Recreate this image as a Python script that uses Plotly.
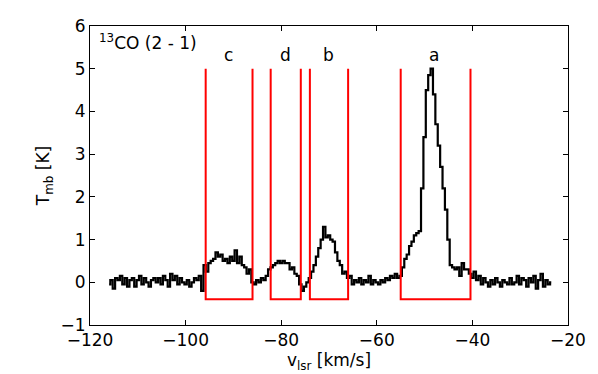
import numpy as np
import plotly.graph_objects as go

# 13CO (2-1) spectrum, 0.5 km/s channels starting at -116 km/s
v_start = -116.0
dv = 0.5
tmb = [
    -0.05, 0.05, -0.15, 0.1, 0.05, 0.15, -0.05, 0.1, -0.1, 0.05,
    0.1, -0.1, 0.05, 0.15, -0.05, 0.1, 0.0, -0.1, 0.05, 0.1,
    0.0, 0.1, -0.05, 0.15, 0.05, -0.1, 0.2, 0.05, 0.15, -0.05,
    0.1, 0.0, -0.05, 0.05, -0.1, 0.0, 0.1, 0.05, 0.15, -0.2,
    0.4, 0.25, 0.45, 0.5, 0.55, 0.7, 0.6, 0.65, 0.5, 0.55,
    0.45, 0.6, 0.5, 0.75, 0.45, 0.6, 0.4, 0.35, 0.2, 0.3,
    0.0, -0.05, 0.05, 0.0, 0.1, 0.05, 0.15, 0.3, 0.35, 0.4,
    0.45, 0.5, 0.45, 0.5, 0.45, 0.45, 0.3, 0.35, 0.2, 0.15,
    -0.05, -0.2, -0.1, 0.0, 0.1, 0.25, 0.4, 0.6, 0.8, 1.0,
    1.3, 1.05, 1.1, 1.0, 0.95, 0.7, 0.5, 0.4, 0.2, 0.25,
    0.1, 0.15, -0.05, 0.05, 0.0, 0.1, -0.05, 0.05, 0.0, 0.15,
    -0.05, 0.05, 0.0, -0.05, 0.05, 0.0, 0.1, 0.05, 0.15, 0.1,
    0.2, 0.1, 0.15, 0.35, 0.55, 0.65, 0.85, 0.95, 1.1, 1.15,
    1.2, 2.2, 3.4, 4.5, 4.85, 5.0, 4.4, 3.7, 3.2, 2.7,
    2.2, 1.7, 1.0, 0.4, 0.35, 0.3, 0.35, 0.15, 0.45, 0.3,
    0.3, 0.2, 0.1, 0.25, 0.05, 0.15, -0.05, 0.1, 0.0, -0.1,
    0.05, -0.05, 0.1, 0.0, -0.1, 0.05, 0.0, -0.05, 0.1, -0.05,
    0.0, 0.15, -0.05, 0.1, 0.05, -0.1, 0.1, 0.0, 0.15, -0.15,
    0.05, 0.2, -0.1, 0.05, -0.05, 0.0,
]
vlsr = v_start + dv * np.arange(len(tmb))

# integration windows
region_names = ["c", "d", "b", "a"]
region_lo = [-95.8, -82.2, -74.0, -55.0]
region_hi = [-86.0, -75.9, -66.0, -40.4]
region_label_x = [-91.0, -79.2, -70.2, -48.0]
box_bottom = -0.4
box_top = 5.0

fig = go.Figure()
fig.add_trace(go.Scatter(x=vlsr, y=tmb, mode="lines", line_shape="hvh",
                         line=dict(color="black", width=2.2), showlegend=False))

for name, lo, hi, lx in zip(region_names, region_lo, region_hi, region_label_x):
    fig.add_trace(go.Scatter(x=[lo, lo, hi, hi], y=[box_top, box_bottom, box_bottom, box_top],
                             mode="lines", line=dict(color="red", width=2), showlegend=False))
    fig.add_annotation(x=lx, y=5.32, text=name, showarrow=False,
                       font=dict(size=17, color="black"))

fig.add_annotation(x=-118.5, y=5.62, xanchor="left", text="<sup>13</sup>CO (2 - 1)",
                   showarrow=False, font=dict(size=17, color="black"))

axis_style = dict(showline=True, linecolor="black", linewidth=1, mirror="ticks",
                  ticks="inside", ticklen=5, tickcolor="black", showgrid=False,
                  zeroline=False, automargin=False, tickfont=dict(size=17, color="black"))
fig.update_xaxes(range=[-120, -20], dtick=20, title_text="v<sub>lsr</sub> [km/s]",
                 title_font=dict(size=17, color="black"), title_standoff=2, **axis_style)
fig.update_yaxes(range=[-1, 6], dtick=1, title_text="T<sub>mb</sub> [K]",
                 title_font=dict(size=17, color="black"), title_standoff=6, **axis_style)

# page body adds an 8px offset, so margins are shifted to compensate
fig.update_layout(width=598, height=374, margin=dict(l=82, r=38, t=18, b=57),
                  plot_bgcolor="white", paper_bgcolor="white",
                  font=dict(family="DejaVu Sans", color="black"))

fig.write_html("out.html")
